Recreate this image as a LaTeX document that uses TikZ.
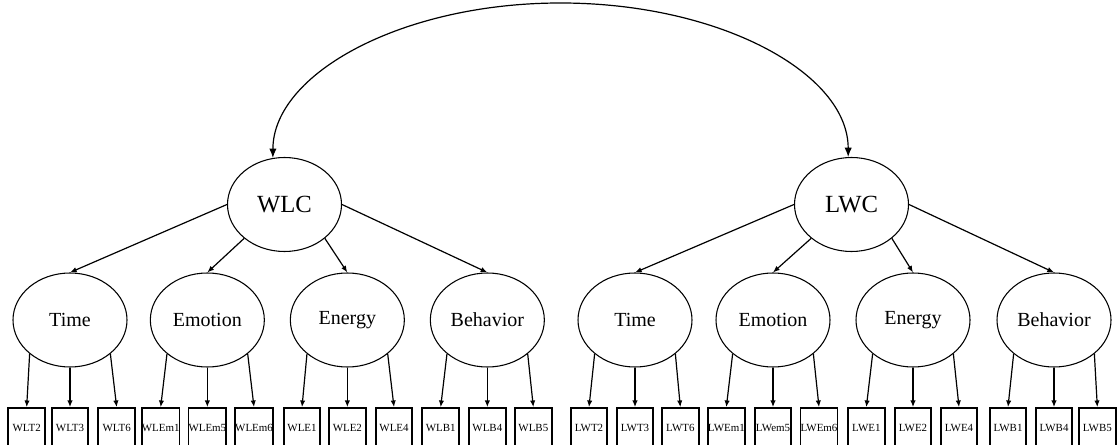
\documentclass[tikz,border=0pt]{standalone}
\usepackage{fontspec}
\setmainfont{Liberation Serif}
\usepackage{tikz}
\usetikzlibrary{shapes.geometric, arrows.meta, positioning}

\begin{document}
\begin{tikzpicture}[
    x=0.75pt, y=-0.75pt, on grid,
    second/.style={ellipse, draw, line width=0.8pt, minimum width=85.5pt, minimum height=70.5pt, inner sep=0pt, font=\rmfamily\fontsize{18.5}{20}\selectfont},
    first/.style={ellipse, draw, line width=0.8pt, minimum width=85.5pt, minimum height=70.5pt, inner sep=0pt, font=\rmfamily\fontsize{15}{17}\selectfont},
    item/.style={rectangle, draw, line width=1.3pt, minimum width=27.5pt, minimum height=30pt, inner sep=0pt, font=\rmfamily\fontsize{8.2}{9}\selectfont},
    link/.style={-{Latex[length=5pt, width=4pt]}, line width=0.9pt},
    cov/.style={{Latex[length=7pt, width=5.5pt]}-{Latex[length=7pt, width=5.5pt]}, line width=0.9pt}
]
\useasboundingbox (0,0) rectangle (1117,445);

% second-order factors
\node[second] (wlc) at (284.5,204.5) {WLC};
\node[second] (lwc) at (851.5,204.5) {LWC};
\coordinate (apex) at (560.5,3);

% first-order factors
\node[first] (wtime) at (70,320) {Time};
\node[first, right=103pt of wtime] (wemo) {Emotion};
\node[first, right=105pt of wemo] (wene) {Energy};
\node[first, right=105pt of wene] (wbeh) {Behavior};
\node[first] (ltime) at (635,320) {Time};
\node[first, right=103.5pt of ltime] (lemo) {Emotion};
\node[first, right=105pt of lemo] (lene) {Energy};
\node[first, right=105.75pt of lene] (lbeh) {Behavior};

% items
\node[item, below=81pt of wtime] (wlt3) {WLT3};
\node[item, left=32.5pt of wlt3] (wlt2) {WLT2};
\node[item, right=35pt of wlt3] (wlt6) {WLT6};
\node[item, below=81pt of wemo] (wlem5) {WLEm5};
\node[item, left=35pt of wlem5] (wlem1) {WLEm1};
\node[item, right=35pt of wlem5] (wlem6) {WLEm6};
\node[item, below=81pt of wene] (wle2) {WLE2};
\node[item, left=34pt of wle2] (wle1) {WLE1};
\node[item, right=35pt of wle2] (wle4) {WLE4};
\node[item, below=81pt of wbeh] (wlb4) {WLB4};
\node[item, left=35pt of wlb4] (wlb1) {WLB1};
\node[item, right=34.5pt of wlb4] (wlb5) {WLB5};
\node[item, below=81pt of ltime] (lwt3) {LWT3};
\node[item, left=34.5pt of lwt3] (lwt2) {LWT2};
\node[item, right=34pt of lwt3] (lwt6) {LWT6};
\node[item, below=81pt of lemo] (lwem5) {LWem5};
\node[item, left=35pt of lwem5] (lwem1) {LWEm1};
\node[item, right=34.5pt of lwem5] (lwem6) {LWEm6};
\node[item, below=81pt of lene] (lwe2) {LWE2};
\node[item, left=35pt of lwe2] (lwe1) {LWE1};
\node[item, right=34.5pt of lwe2] (lwe4) {LWE4};
\node[item, below=81pt of lbeh] (lwb4) {LWB4};
\node[item, left=34.5pt of lwb4] (lwb1) {LWB1};
\node[item, right=32.5pt of lwb4] (lwb5) {LWB5};

% covariance
\draw[cov] (wlc.104) .. controls +(0,-84) and +(-159,0) .. (apex)
    .. controls +(159,0) and +(0,-84) .. (lwc.94);

% second to first order
\draw[link] (wlc.west) -- (wtime.north);
\draw[link] (wlc.220) -- (wemo.north);
\draw[link] (wlc.320) -- (wene.north);
\draw[link] (wlc.east) -- (wbeh.north);
\draw[link] (lwc.west) -- (ltime.north);
\draw[link] (lwc.220) -- (lemo.north);
\draw[link] (lwc.320) -- (lene.north);
\draw[link] (lwc.east) -- (lbeh.north);

% first order to items
\draw[link] (wtime.220) -- (wlt2.north);
\draw[link] (wtime.south) -- (wlt3.north);
\draw[link] (wtime.320) -- (wlt6.north);
\draw[link] (wemo.220) -- (wlem1.north);
\draw[link] (wemo.south) -- (wlem5.north);
\draw[link] (wemo.320) -- (wlem6.north);
\draw[link] (wene.220) -- (wle1.north);
\draw[link] (wene.south) -- (wle2.north);
\draw[link] (wene.320) -- (wle4.north);
\draw[link] (wbeh.220) -- (wlb1.north);
\draw[link] (wbeh.south) -- (wlb4.north);
\draw[link] (wbeh.320) -- (wlb5.north);
\draw[link] (ltime.220) -- (lwt2.north);
\draw[link] (ltime.south) -- (lwt3.north);
\draw[link] (ltime.320) -- (lwt6.north);
\draw[link] (lemo.220) -- (lwem1.north);
\draw[link] (lemo.south) -- (lwem5.north);
\draw[link] (lemo.320) -- (lwem6.north);
\draw[link] (lene.220) -- (lwe1.north);
\draw[link] (lene.south) -- (lwe2.north);
\draw[link] (lene.320) -- (lwe4.north);
\draw[link] (lbeh.220) -- (lwb1.north);
\draw[link] (lbeh.south) -- (lwb4.north);
\draw[link] (lbeh.320) -- (lwb5.north);
\end{tikzpicture}
\end{document}
